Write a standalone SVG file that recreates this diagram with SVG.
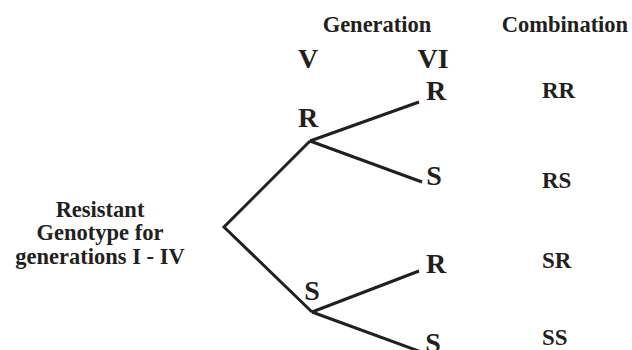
<svg xmlns="http://www.w3.org/2000/svg" width="632" height="350" viewBox="0 0 632 350">
<style>
text{font-family:"Liberation Serif","Times New Roman",serif;font-weight:bold;fill:#231f20}
.h{font-size:22.5px;text-anchor:middle}
.g{font-size:28px;text-anchor:middle}
.c{font-size:23px}
.l{font-size:22.5px;text-anchor:middle}
.e{stroke:#231f20;stroke-width:3;fill:none;stroke-linejoin:miter}
</style>
<rect width="632" height="350" fill="#fff"/>
<g id="headers">
<text class="h" x="377" y="32">Generation</text>
<text class="h" x="565" y="32">Combination</text>
<text class="g" x="308" y="68">V</text>
<text class="g" x="433" y="68">VI</text>
</g>
<g id="connectors">
<polyline class="e" points="310,141 224,227 312,312"/>
<line class="e" x1="310" y1="141" x2="419" y2="102"/>
<line class="e" x1="310" y1="141" x2="422" y2="182"/>
<line class="e" x1="312" y1="312" x2="419" y2="271"/>
<line class="e" x1="312" y1="312" x2="424" y2="353"/>
</g>
<g id="root">
<text class="l" x="100" y="217">Resistant</text>
<text class="l" x="100" y="240">Genotype for</text>
<text class="l" x="100" y="264">generations I - IV</text>
</g>
<g id="node-R5"><text class="g" x="308" y="127">R</text></g>
<g id="node-S5"><text class="g" x="312" y="300">S</text></g>
<g id="node-RR"><text class="g" x="436" y="100">R</text></g>
<g id="node-RS"><text class="g" x="434" y="185">S</text></g>
<g id="node-SR"><text class="g" x="436" y="273">R</text></g>
<g id="node-SS"><text class="g" x="433" y="352">S</text></g>
<g id="combinations">
<text class="c" x="542" y="98">RR</text>
<text class="c" x="542" y="188">RS</text>
<text class="c" x="542" y="268">SR</text>
<text class="c" x="542" y="345">SS</text>
</g>
</svg>
